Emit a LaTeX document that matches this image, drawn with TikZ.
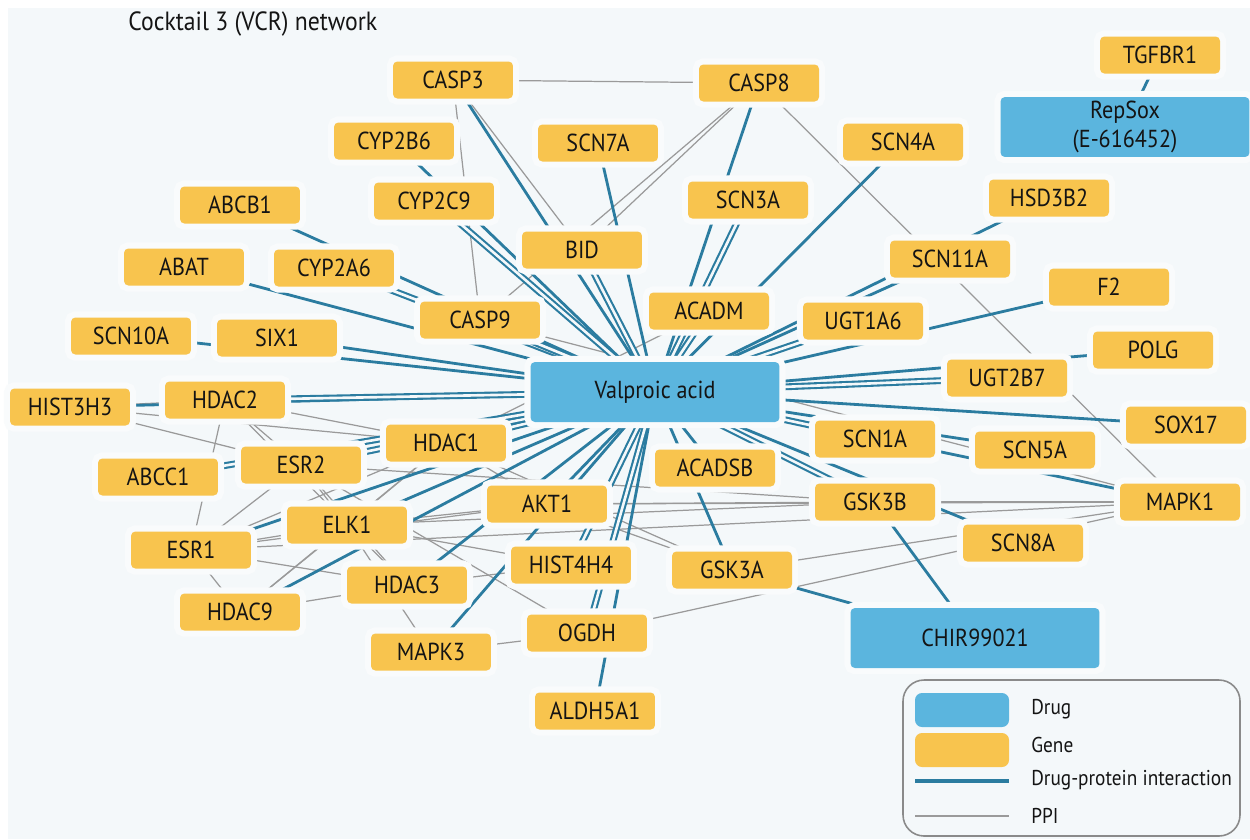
\documentclass[tikz,border=0pt]{standalone}
\usepackage{fontspec}
\setmainfont{PT Sans}[FakeStretch=0.9]
\usetikzlibrary{backgrounds}
\definecolor{bgc}{HTML}{F4F8FA}
\definecolor{haloc}{HTML}{F9FBFC}
\definecolor{genec}{HTML}{F8C44E}
\definecolor{drugc}{HTML}{5BB5DE}
\definecolor{dpic}{HTML}{2B7CA0}
\definecolor{ppic}{HTML}{9A9A9A}
\definecolor{txtc}{HTML}{141414}
\definecolor{legc}{HTML}{8A8A8A}
\pgfdeclarelayer{back}
\pgfdeclarelayer{edges}
\pgfsetlayers{back,edges,main}
\tikzset{
  gene/.style={rectangle, rounded corners=2.5pt, fill=genec, text=txtc,
    minimum width=2.4cm, minimum height=0.74cm, inner sep=0pt,
    font=\fontsize{14}{15}\selectfont,
    preaction={draw=haloc, line width=7pt}},
  drug/.style={gene, fill=drugc, minimum width=4.98cm, minimum height=1.2cm, align=center,
    font=\fontsize{14}{17}\selectfont},
  dpi/.style={draw=dpic, line width=1.6pt},
  dpi2/.style={draw=dpic, line width=1.2pt, double=bgc, double distance=1.5pt},
  ppi/.style={draw=ppic, line width=0.7pt},
  legtext/.style={anchor=west, text=txtc, font=\fontsize{12.2}{14}\selectfont, inner sep=0pt}
}
\begin{document}
\begin{tikzpicture}[x=0.02cm,y=-0.02cm]
\useasboundingbox (0,0) rectangle (1250,839);
\begin{pgfonlayer}{back}
\fill[white] (0,0) rectangle (1250,839);
\fill[bgc] (8,8) rectangle (1250,839);
\end{pgfonlayer}

\node[anchor=west, text=txtc, font=\fontsize{15}{17}\selectfont, inner sep=0pt] (title) at (128,24) {Cocktail 3 (VCR) network};

% drugs
\node[drug] (vpa) at (655,392) {Valproic acid};
\node[drug] (repsox) at (1125,127) {RepSox\\(E-616452)};
\node[drug] (chir) at (975,638) {CHIR99021};

% genes
\node[gene] (casp3) at (453,80) {CASP3};
\node[gene] (casp8) at (759,83) {CASP8};
\node[gene] (tgfbr1) at (1160,55) {TGFBR1};
\node[gene] (cyp2b6) at (394,141) {CYP2B6};
\node[gene] (scn7a) at (598,143) {SCN7A};
\node[gene] (scn4a) at (903,142) {SCN4A};
\node[gene] (abcb1) at (240,205) {ABCB1};
\node[gene] (cyp2c9) at (434,201) {CYP2C9};
\node[gene] (scn3a) at (748,200) {SCN3A};
\node[gene] (hsd3b2) at (1049,198) {HSD3B2};
\node[gene] (bid) at (582,250) {BID};
\node[gene] (abat) at (184,267) {ABAT};
\node[gene] (cyp2a6) at (334,268) {CYP2A6};
\node[gene] (scn11a) at (950,259) {SCN11A};
\node[gene] (f2) at (1109,287) {F2};
\node[gene] (acadm) at (709,311) {ACADM};
\node[gene] (casp9) at (480,320) {CASP9};
\node[gene] (ugt1a6) at (863,321) {UGT1A6};
\node[gene] (scn10a) at (131,336) {SCN10A};
\node[gene] (six1) at (277,338) {SIX1};
\node[gene] (polg) at (1153,350) {POLG};
\node[gene] (ugt2b7) at (1007,378) {UGT2B7};
\node[gene] (hist3h3) at (70,407) {HIST3H3};
\node[gene] (hdac2) at (225,400) {HDAC2};
\node[gene] (sox17) at (1186,425) {SOX17};
\node[gene] (hdac1) at (446,443) {HDAC1};
\node[gene] (scn1a) at (875,439) {SCN1A};
\node[gene] (scn5a) at (1035,450) {SCN5A};
\node[gene] (esr2) at (301,465) {ESR2};
\node[gene] (abcc1) at (158,477) {ABCC1};
\node[gene] (acadsb) at (715,468) {ACADSB};
\node[gene] (mapk1) at (1180,502) {MAPK1};
\node[gene] (gsk3b) at (875,502) {GSK3B};
\node[gene] (akt1) at (547,504) {AKT1};
\node[gene] (elk1) at (347,525) {ELK1};
\node[gene] (esr1) at (191,550) {ESR1};
\node[gene] (scn8a) at (1023,543) {SCN8A};
\node[gene] (hist4h4) at (571,565) {HIST4H4};
\node[gene] (gsk3a) at (732,570) {GSK3A};
\node[gene] (hdac3) at (407,585) {HDAC3};
\node[gene] (hdac9) at (240,612) {HDAC9};
\node[gene] (ogdh) at (587,633) {OGDH};
\node[gene] (mapk3) at (431,652) {MAPK3};
\node[gene] (aldh5a1) at (595,711) {ALDH5A1};

\begin{pgfonlayer}{edges}
% PPI
\foreach \a/\b in {casp3/casp8, casp3/casp9, casp3/bid, casp8/bid, casp8/casp9, casp8/mapk1,
  casp9/mapk1, acadm/hdac1, hist3h3/hdac2, hist3h3/hdac1, hist3h3/esr2, hdac2/hdac1,
  hdac2/esr2, hdac2/esr1, hdac2/hdac3, esr2/esr1, esr1/elk1, esr1/akt1, esr1/mapk1, esr1/hdac1,
  esr1/hdac9, esr1/hdac3, hdac9/hdac3, hdac9/elk1, hdac1/hdac9, hdac3/hist4h4, elk1/mapk3,
  mapk3/ogdh, ogdh/mapk1, gsk3a/mapk1, akt1/gsk3a, hdac1/gsk3a, akt1/gsk3b, akt1/mapk1,
  esr2/gsk3b, esr2/ogdh, elk1/gsk3b, gsk3b/mapk1, elk1/hist4h4, hdac1/akt1, elk1/akt1,
  esr2/elk1, esr2/hdac3, hdac1/elk1}
  \draw[ppi] (\a) -- (\b);
% drug-protein
\foreach \g in {casp3, cyp2b6, abcb1, abat, scn10a, six1, hist3h3, elk1, esr1, hdac9, hdac3,
  mapk3, akt1, aldh5a1, acadsb, gsk3a, scn8a, scn5a, mapk1, sox17, polg, f2, scn11a, hsd3b2,
  scn4a, casp8, scn7a}
  \draw[dpi] (\g) -- (vpa);
\foreach \g in {cyp2c9, cyp2a6, casp9, hdac2, hdac1, esr2, abcc1, hist4h4, ogdh, gsk3b,
  scn1a, ugt2b7, ugt1a6, scn3a, acadm, bid}
  \draw[dpi2] (\g) -- (vpa);
\draw[dpi] (tgfbr1) -- (repsox);
\draw[dpi] (gsk3b) -- (chir);
\draw[dpi] (gsk3a) -- (chir);
\end{pgfonlayer}

% legend
\draw[legc, line width=0.9pt, rounded corners=12pt] (903,680) rectangle (1240,836);
\fill[drugc, rounded corners=4pt] (915,693) rectangle (1009,727);
\fill[genec, rounded corners=4pt] (915,733) rectangle (1009,767);
\coordinate (l1a) at (915,781); \coordinate (l1b) at (1009,781);
\coordinate (l2a) at (915,816); \coordinate (l2b) at (1009,816);
\draw[dpic, line width=2pt] (l1a) -- (l1b);
\draw[ppic, line width=1pt] (l2a) -- (l2b);
\node[legtext] (ldrug) at (1031,709) {Drug};
\node[legtext] (lgene) at (1031,745) {Gene};
\node[legtext] (ldpi) at (1031,780) {Drug-protein interaction};
\node[legtext] (lppi) at (1031,816) {PPI};
\end{tikzpicture}
\end{document}
